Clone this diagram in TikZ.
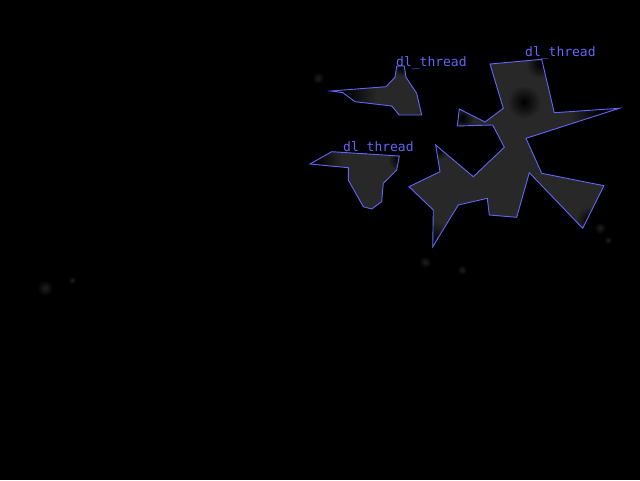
\documentclass[tikz,border=0pt]{standalone}
\usepackage{fontspec}
\newfontfamily\labfont{DejaVu Sans Mono}
\definecolor{edge}{RGB}{100,100,250}
\definecolor{blob}{RGB}{40,40,40}
\definecolor{faint}{RGB}{30,30,30}
\tikzset{
  region/.style={draw=edge, line width=0.9pt, line join=miter},
  tag/.style={text=edge, font=\labfont\fontsize{13}{13}\selectfont, inner sep=0pt, anchor=base west},
  dim/.style={inner color=black, outer color=blob},
}
\begin{document}
\begin{tikzpicture}[x=1pt,y=-1pt]
\fill[black] (0,0) rectangle (640,480);
\useasboundingbox (0,0) rectangle (640,480);
% faint background blobs
\foreach \p/\r in {(318,78)/6,(425,262)/6,(462,270)/5,(45,288)/8,(72,280)/4,(600,228)/6,(608,240)/4}
  \shade[inner color=faint, outer color=black] \p circle (\r);
% region 1
\begin{scope}
\clip (396.7,66) -- (395,77.3) -- (386,86.7) -- (331,91) -- (343,92.7) -- (355,101.7) -- (391.7,106) -- (399.3,115) -- (421.7,115) -- (416.7,93.3) -- (406,77.3) -- (404.3,66) -- cycle;
\fill[blob] (300,50) rectangle (430,120);
\shade[dim] (345,94) circle (32);
\shade[dim] (401,68) circle (8);
\end{scope}
% region 2
\begin{scope}
\clip (310,164) -- (331.7,151.7) -- (399.3,156) -- (396.7,170) -- (383.3,183.3) -- (381.7,201.7) -- (371.7,209) -- (363.3,206.7) -- (348.3,180) -- (348.3,167.7) -- cycle;
\fill[blob] (300,140) rectangle (410,215);
\shade[dim] (315,163) circle (28);
\shade[dim] (398,160) circle (10);
\end{scope}
% region 3
\begin{scope}
\clip (490,64) -- (541.7,59.3) -- (554.3,112.7) -- (619.3,108.3) -- (526,138.3) -- (541.7,173.3) -- (604,185.7) -- (582.7,228.3) -- (529.3,172.7) -- (516.7,217.3) -- (489.3,215) -- (487.3,198.3) -- (458.3,205) -- (432.7,246.7) -- (433.3,210) -- (409,186.7) -- (440,171.7) -- (435.7,145) -- (473.3,176.7) -- (504.3,147.3) -- (492.7,125) -- (457.3,126) -- (459.3,109) -- (485,122) -- (503.3,108.3) -- cycle;
\fill[blob] (400,50) rectangle (630,250);
\shade[dim] (524,102) circle (17);
\shade[dim] (600,112) circle (30);
\shade[dim] (433,243) circle (22);
\shade[dim] (540,64) circle (14);
\shade[dim] (462,118) circle (12);
\shade[dim] (438,150) circle (10);
\shade[dim] (590,220) circle (14);
\end{scope}
% outlines
\draw[region] (396.7,66) -- (395,77.3) -- (386,86.7) -- (331,91) -- (343,92.7) -- (355,101.7) -- (391.7,106) -- (399.3,115) -- (421.7,115) -- (416.7,93.3) -- (406,77.3) -- (404.3,66) -- cycle;
\draw[region] (310,164) -- (331.7,151.7) -- (399.3,156) -- (396.7,170) -- (383.3,183.3) -- (381.7,201.7) -- (371.7,209) -- (363.3,206.7) -- (348.3,180) -- (348.3,167.7) -- cycle;
\draw[region] (490,64) -- (541.7,59.3) -- (554.3,112.7) -- (619.3,108.3) -- (526,138.3) -- (541.7,173.3) -- (604,185.7) -- (582.7,228.3) -- (529.3,172.7) -- (516.7,217.3) -- (489.3,215) -- (487.3,198.3) -- (458.3,205) -- (432.7,246.7) -- (433.3,210) -- (409,186.7) -- (440,171.7) -- (435.7,145) -- (473.3,176.7) -- (504.3,147.3) -- (492.7,125) -- (457.3,126) -- (459.3,109) -- (485,122) -- (503.3,108.3) -- cycle;
% labels
\node[tag] (labA) at (396,66.5) {dl\_thread};
\node[tag] (labB) at (343,151) {dl\_thread};
\node[tag] (labC) at (525,56.5) {dl\_thread};
\end{tikzpicture}
\end{document}
